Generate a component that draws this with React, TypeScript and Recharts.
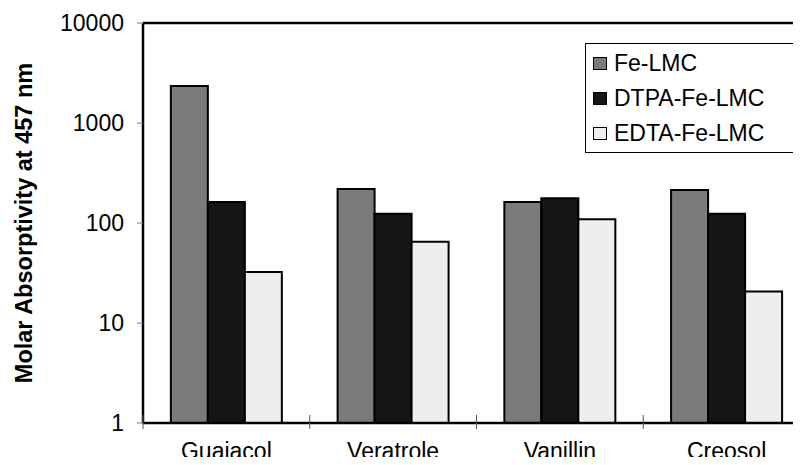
import { BarChart, Bar, XAxis, YAxis, Legend, ReferenceLine } from "recharts";

const compounds = ["Guaiacol", "Veratrole", "Vanillin", "Creosol"];
const feLmc = [2340, 219, 162, 214];
const dtpaFeLmc = [162, 124, 177, 124];
const edtaFeLmc = [32.4, 65, 109, 20.6];
const yTicks = [1, 10, 100, 1000, 10000];

const series = [
  { key: "fe", name: "Fe-LMC", color: "#7b7b7b" },
  { key: "dtpa", name: "DTPA-Fe-LMC", color: "#151515" },
  { key: "edta", name: "EDTA-Fe-LMC", color: "#eeeeee" },
];

const data = compounds.map((name, i) => ({
  name,
  fe: feLmc[i],
  dtpa: dtpaFeLmc[i],
  edta: edtaFeLmc[i],
}));

const font = "Arial, 'Liberation Sans', sans-serif";
const X_TICK_SIZE = 6;
const X_TICK_MARGIN = 14;

// category label plus the boundary tick at the left edge of its band
function CategoryTick(props: any) {
  const { x, y, payload } = props;
  const axisY = y - X_TICK_SIZE - X_TICK_MARGIN;
  const left = x - (payload.offset ?? 0);
  return (
    <g>
      <line x1={left} x2={left} y1={axisY - 8} y2={axisY + 6} stroke="#555" strokeWidth={1} />
      <text x={x} y={y} dy="0.71em" textAnchor="middle" fill="#000" fontSize={23} fontFamily={font}>
        {payload.value}
      </text>
    </g>
  );
}

function LegendBox() {
  return (
    <div
      style={{
        border: "1.5px solid #000",
        width: 215,
        height: 110,
        boxSizing: "border-box",
        padding: "2px 0 0 7px",
        background: "#fff",
        fontFamily: font,
      }}
    >
      {series.map((s) => (
        <div key={s.key} style={{ display: "flex", alignItems: "center", height: 35 }}>
          <span
            style={{
              width: 14,
              height: 13,
              boxSizing: "border-box",
              border: "1.5px solid #000",
              background: s.color,
              marginRight: 7,
            }}
          />
          <span style={{ fontSize: 23, color: "#000", lineHeight: "35px" }}>{s.name}</span>
        </div>
      ))}
    </div>
  );
}

export default function App() {
  return (
    <div style={{ margin: -8, width: 801, height: 465, overflow: "hidden", background: "#fff", fontFamily: font }}>
      <BarChart
        width={830}
        height={465}
        data={data}
        margin={{ top: 23, right: 20, bottom: 0, left: 0 }}
        barCategoryGap="16.7%"
        barGap={0}
      >
        <XAxis
          dataKey="name"
          height={42}
          axisLine={{ stroke: "#000", strokeWidth: 2.5 }}
          tickLine={false}
          tickSize={X_TICK_SIZE}
          tickMargin={X_TICK_MARGIN}
          tick={<CategoryTick />}
        />
        <YAxis
          scale="log"
          domain={[1, 10000]}
          ticks={yTicks}
          allowDataOverflow
          width={143}
          axisLine={{ stroke: "#000", strokeWidth: 2.5 }}
          tickLine={{ stroke: "#777", strokeWidth: 1 }}
          tickSize={6}
          tickMargin={13}
          tick={{ fill: "#000", fontSize: 23, fontFamily: font }}
          label={{
            value: "Molar Absorptivity at 457 nm",
            angle: -90,
            position: "insideLeft",
            offset: 24,
            style: { textAnchor: "middle", fontWeight: "bold", fontSize: 23.5, fill: "#000", fontFamily: font },
          }}
        />
        <ReferenceLine y={10000} stroke="#000" strokeWidth={2.5} />
        <Legend
          layout="vertical"
          align="center"
          verticalAlign="middle"
          content={<LegendBox />}
          wrapperStyle={{ left: 585, top: 43, right: "auto", bottom: "auto", width: 215, height: 110 }}
        />
        {series.map((s) => (
          <Bar
            key={s.key}
            dataKey={s.key}
            name={s.name}
            fill={s.color}
            stroke="#000"
            strokeWidth={2}
            isAnimationActive={false}
          />
        ))}
      </BarChart>
    </div>
  );
}
